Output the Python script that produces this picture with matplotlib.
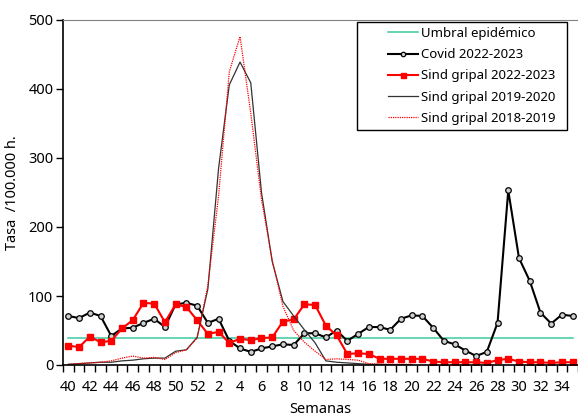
import matplotlib
matplotlib.use('Agg')
import matplotlib.pyplot as plt
from matplotlib.patches import Rectangle
import numpy as np

# semanas epidemiológicas (40-52 y 1-35)
semanas = list(range(40, 53)) + list(range(1, 36))

umbral = [39] * 48

covid_2223 = [71, 68, 76, 71, 42, 53, 54, 61, 67, 55, 88, 90, 86,
              61, 67, 35, 24, 19, 24, 27, 30, 29, 46, 46, 40,
              50, 35, 45, 55, 55, 51, 67, 72, 71, 54, 35, 30,
              21, 13, 19, 61, 253, 155, 122, 76, 60, 73, 71]

gripal_2223 = [28, 26, 41, 33, 35, 53, 65, 90, 89, 62, 88, 84, 65,
               45, 48, 32, 38, 36, 39, 40, 63, 66, 88, 87, 57,
               43, 16, 17, 16, 9, 9, 9, 9, 9, 5, 4, 4,
               4, 4, 3, 7, 9, 5, 4, 4, 3, 4, 4]

gripal_1920 = [1, 2, 3, 4, 4, 6, 7, 9, 10, 10, 20, 22, 40,
               110, 285, 406, 439, 409, 250, 150, 92, 71, 51, 32, 6,
               4, 3, 2, 1, 1, 0.5, 0.5, 0.5] + [np.nan] * 15

gripal_1819 = [1, 2, 3, 4, 6, 10, 13, 10, 11, 8, 18, 22, 39,
               115, 245, 425, 476, 365, 240, 152, 85, 50, 33, 20, 8,
               9, 8, 7, 2, 1, 1, 1, 1] + [np.nan] * 15

plt.rcParams['font.family'] = ['Noto Sans', 'DejaVu Sans']

fig = plt.figure(figsize=(5.78, 4.18), dpi=100)
ax = fig.add_axes([63 / 578, 1 - 365 / 418, 515 / 578, 345 / 418])

x = np.arange(len(semanas))

# series
l1, = ax.plot(x, umbral, color='#3CCB9F', lw=1.1)
l2, = ax.plot(x, covid_2223, color='black', lw=1.5, marker='o', ms=4,
              mfc='#d0d0d0', mec='black', mew=0.9)
l3, = ax.plot(x, gripal_2223, color='#ff0000', lw=1.5, marker='s', ms=4.5,
              mfc='#ff0000', mec='#ff0000')
l4, = ax.plot(x, gripal_1920, color='#333333', lw=0.9)
l5, = ax.plot(x, gripal_1819, color='#ff0000', lw=0.9, ls=(0, (1, 0.8)))

# ejes
ax.set_xlim(-0.5, 47.45)
ax.set_ylim(0, 500)
ax.set_yticks(range(0, 501, 100))
ax.set_xticks(x[::2])
ax.set_xticklabels([str(s) for s in semanas[::2]])
ax.set_xticks(np.arange(-0.5, 48, 1), minor=True)
ax.tick_params(axis='x', which='major', length=0, labelsize=10.5, pad=11)
ax.tick_params(axis='x', which='minor', length=5, width=1, direction='out')
ax.tick_params(axis='y', length=5, width=1, direction='out', labelsize=10.5, pad=2)

ax.spines['top'].set_color('#808080')
ax.spines['right'].set_visible(False)
ax.spines['left'].set_linewidth(1.2)
ax.spines['bottom'].set_linewidth(1.2)

ax.set_xlabel('Semanas', fontsize=10.5, labelpad=5)
ax.set_ylabel('Tasa  /100.000 h.', fontsize=10.5, labelpad=6)

# leyenda con caja dibujada a mano
fig.patches.append(Rectangle((357 / 578, 1 - 130 / 418), 210 / 578, 108 / 418,
                             transform=fig.transFigure, fill=False,
                             edgecolor='black', lw=1))
fig.legend([l1, l2, l3, l4, l5],
           ['Umbral epidémico', 'Covid 2022-2023', 'Sind gripal 2022-2023',
            'Sind gripal 2019-2020', 'Sind gripal 2018-2019'],
           loc='upper left', bbox_to_anchor=(388 / 578, 1 - 27 / 418),
           frameon=False, fontsize=9.5, numpoints=1, markerscale=0.8,
           handlelength=2.3, handletextpad=0.2, labelspacing=0.62,
           borderpad=0, borderaxespad=0)

fig.savefig('out.png', dpi=100)
